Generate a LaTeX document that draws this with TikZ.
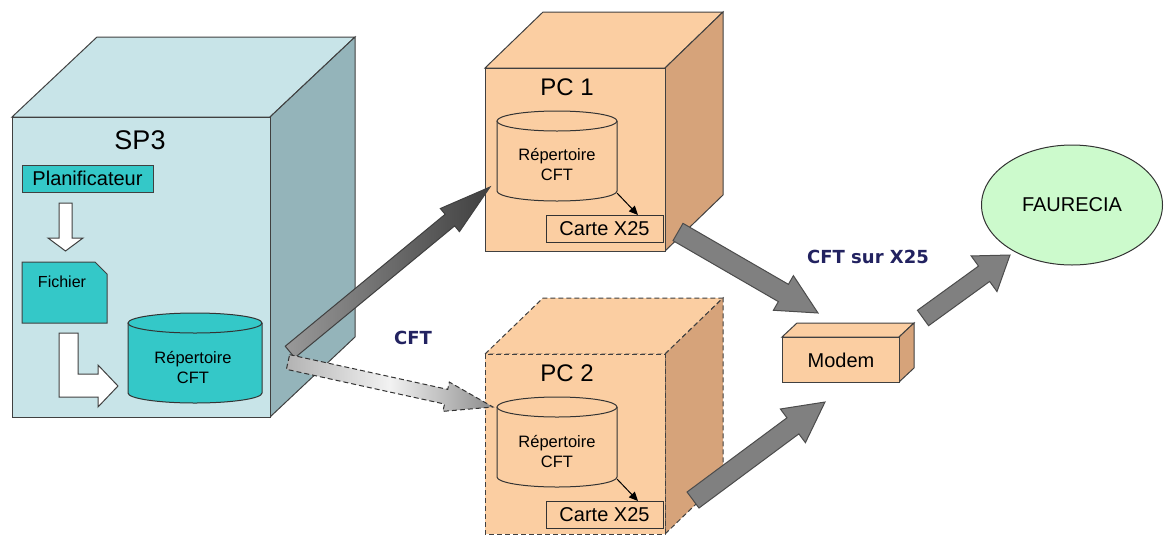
\documentclass[tikz,border=0pt]{standalone}
\usepackage{fontspec}
\setmainfont{Liberation Sans}
\newfontfamily\cftfont{DejaVu Sans}
\usetikzlibrary{calc,shapes.geometric,arrows.meta}

\definecolor{spfront}{RGB}{200,228,232}
\definecolor{spside}{RGB}{148,180,186}
\definecolor{tealbox}{RGB}{52,200,200}
\definecolor{pcfront}{RGB}{251,206,162}
\definecolor{pcside}{RGB}{214,163,122}
\definecolor{faurgreen}{RGB}{204,250,204}
\definecolor{cftblue}{RGB}{34,34,96}

% cube: [line][front][side](x1,y1)(x2,y2)(dx,dy)
\def\cubebox[#1][#2][#3](#4,#5)(#6,#7)(#8,#9){%
  \draw[#1,fill=#2] (#4,#5) -- ++(#8,#9) -- ($(#6,#5)+(#8,#9)$) -- (#6,#5) -- cycle;
  \draw[#1,fill=#3] (#6,#5) -- ++(#8,#9) -- ($(#6,#7)+(#8,#9)$) -- (#6,#7) -- cycle;
  \draw[#1,fill=#2] (#4,#5) rectangle (#6,#7);
}
% cylinder: [fill](x1,ytop)(x2,ybot)
\def\drum[#1](#2,#3)(#4,#5){%
  \pgfmathsetmacro\drumrx{(#4-#2)/2}
  \draw[draw=black!80,fill=#1] (#2,#3) -- (#2,#5) arc[start angle=180,end angle=360,x radius=\drumrx pt,y radius=10pt] -- (#4,#3);
  \draw[draw=black!80,fill=#1] ({(#2+#4)/2},#3) ellipse[x radius=\drumrx pt,y radius=10pt];
}
% block arrow: [style](from)(to){half shaft}{half head}{head length}
\def\fatarrow[#1](#2)(#3)#4#5#6{%
  \coordinate (fa-base) at ($(#3)!#6!(#2)$);
  \draw[#1] ($(#2)!#4!90:(#3)$) -- ($(fa-base)!#4!-90:(#2)$) -- ($(fa-base)!#5!-90:(#2)$)
    -- (#3) -- ($(fa-base)!#5!90:(#2)$) -- ($(fa-base)!#4!90:(#2)$) -- ($(#2)!#4!-90:(#3)$) -- cycle;
}

\tikzset{
  cubeline/.style={draw=black!75,line width=1pt},
  pcdash/.style={cubeline,dash pattern=on 5pt off 3pt},
  tealshape/.style={draw=black!75,fill=tealbox},
  cardbox/.style={draw=black!80,fill=pcfront,minimum width=117,minimum height=27,inner sep=0pt,font=\fontsize{20}{20}\selectfont},
  greyarrow/.style={draw=black!70,fill=black!50,line width=1pt},
  cftlabel/.style={text=cftblue,font=\cftfont\bfseries\fontsize{18}{18}\selectfont},
  drumtext/.style={align=center,font=\fontsize{16.5}{20}\selectfont},
  pclabel/.style={font=\fontsize{24}{24}\selectfont},
}

\begin{document}
\begin{tikzpicture}[x=1pt,y=-1pt,line width=1pt]
		%%%%% START %%%%%
		\useasboundingbox (0,0) rectangle (1164,536);
		
		% SP3
		\cubebox[cubeline][spfront][spside](12,117)(270,417)(85,-80)
		\node[font=\fontsize{27}{27}\selectfont] (sp3) at (140,140) {SP3};
		\node[tealshape,minimum width=131,minimum height=27,inner sep=0pt,font=\fontsize{20}{20}\selectfont] (plan) at (87.5,178.5) {Planificateur};
		\draw[tealshape] (22,262) -- (95,262) -- (107,274) -- (107,323) -- (22,323) -- cycle;
		\node[font=\fontsize{16}{16}\selectfont] (fichier) at (62,282) {Fichier};
		\drum[tealbox](128,323)(262,393)
		\node[drumtext] (repsp) at (193,367) {Répertoire\\CFT};
		\coordinate (plan-out) at (65.5,203);
		\coordinate (fichier-in) at (65.5,251);
		\fatarrow[draw=black!75,fill=white](plan-out)(fichier-in){6.5pt}{17.5pt}{13pt}
		\draw[draw=black!75,fill=white] (59,333) -- (78,333) -- (78,374) -- (98,374) -- (98,365)
			-- (118,386) -- (98,407) -- (98,397) -- (59,397) -- cycle;
		
		% PC 1
		\cubebox[cubeline][pcfront][pcside](485,68)(665,251)(58,-56)
		\node[pclabel] (pc1) at (567,87) {PC 1};
		\drum[pcfront](497,121)(617,191)
		\node[drumtext] (rep1) at (557,165) {Répertoire\\CFT};
		\node[cardbox] (carte1) at (604.5,228.5) {Carte X25};
		\coordinate (rep1-out) at (617,193);
		\coordinate (carte1-in) at (638,215);
		\draw[-{Triangle[length=9pt,width=8pt]}] (rep1-out) -- (carte1-in);
		
		% PC 2
		\cubebox[pcdash][pcfront][pcside](485,354)(665,534)(58,-56)
		\node[pclabel] (pc2) at (567,373) {PC 2};
		\drum[pcfront](497,407)(617,477)
		\node[drumtext] (rep2) at (557,451) {Répertoire\\CFT};
		\node[cardbox] (carte2) at (604.5,514.5) {Carte X25};
		\coordinate (rep2-out) at (617,479);
		\coordinate (carte2-in) at (638,501);
		\draw[-{Triangle[length=9pt,width=8pt]}] (rep2-out) -- (carte2-in);
		
		% Modem
		\cubebox[cubeline][pcfront][pcside](782,337)(899,382)(15,-14)
		\node[font=\fontsize{20}{20}\selectfont] (modem) at (841,360) {Modem};
		
		% FAURECIA
		\node[ellipse,draw=black!80,fill=faurgreen,minimum width=181,minimum height=120,font=\fontsize{20}{20}\selectfont] (faurecia) at (1072,205) {FAURECIA};
		
		% liaisons
		\coordinate (sp3-a) at (290,352);
		\coordinate (pc1-in) at (490,187);
		\coordinate (sp3-b) at (288,362);
		\coordinate (pc2-in) at (493,407);
		\coordinate (pc1-out) at (678,232);
		\coordinate (pc2-out) at (693,500);
		\coordinate (modem-in1) at (818,313);
		\coordinate (modem-in2) at (825,402);
		\coordinate (modem-out) at (923,318);
		\coordinate (faurecia-in) at (1010,255);
		\fatarrow[draw=black!75,left color=black!40,right color=black!75](sp3-a)(pc1-in){7.5pt}{15pt}{52pt}
		\fatarrow[draw=black!80,dash pattern=on 5pt off 3pt,left color=black!30,right color=black!45,middle color=black!5](sp3-b)(pc2-in){7.5pt}{15pt}{48pt}
		\fatarrow[greyarrow](pc1-out)(modem-in1){10pt}{20pt}{40pt}
		\fatarrow[greyarrow](pc2-out)(modem-in2){10pt}{21pt}{40pt}
		\fatarrow[greyarrow](modem-out)(faurecia-in){9.5pt}{22pt}{32pt}
		
		\node[cftlabel] (cft) at (413,338) {CFT};
		\node[cftlabel] (cftx25) at (868,257) {CFT sur X25};
		%%%%% END %%%%%
	\end{tikzpicture}
\end{document}
